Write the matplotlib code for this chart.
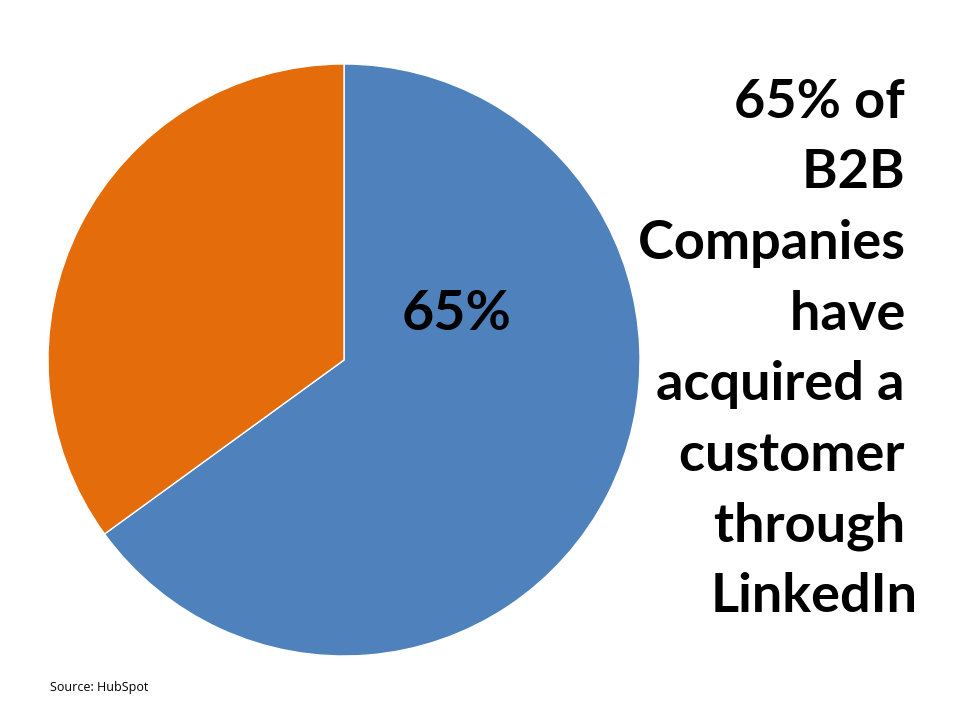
import matplotlib
matplotlib.use("Agg")
import matplotlib.pyplot as plt

labels = ["Acquired via LinkedIn", "Other"]
shares = [65, 35]
colors = ["#4F81BD", "#E46C0A"]
headline = ["65% of ", "B2B ", "Companies ", "have ", "acquired a ",
            "customer ", "through ", "LinkedIn"]
source = "Source: HubSpot"

fig = plt.figure(figsize=(9.6, 7.2), dpi=100)
ax = fig.add_axes([0, 0, 1, 1])

ax.pie(shares, colors=colors, startangle=90, counterclock=False,
       center=(344, 360), radius=296, frame=True,
       wedgeprops=dict(edgecolor="white", linewidth=1))
ax.set_xlim(0, 960)
ax.set_ylim(0, 720)
ax.set_aspect("equal")
ax.axis("off")

ax.text(457, 406, f"{shares[0]}%", fontsize=40, fontweight="bold",
        family="Lato", ha="center", va="center")

# right-hand headline, one line at a time
for i, line in enumerate(headline):
    ax.text(918, 618 - i * 70.7, line, fontsize=39, fontweight="bold",
            family="Lato", ha="right", va="center")

ax.text(50, 33, source, fontsize=9, family="Open Sans", ha="left", va="center")

fig.savefig("out.png", dpi=100)
